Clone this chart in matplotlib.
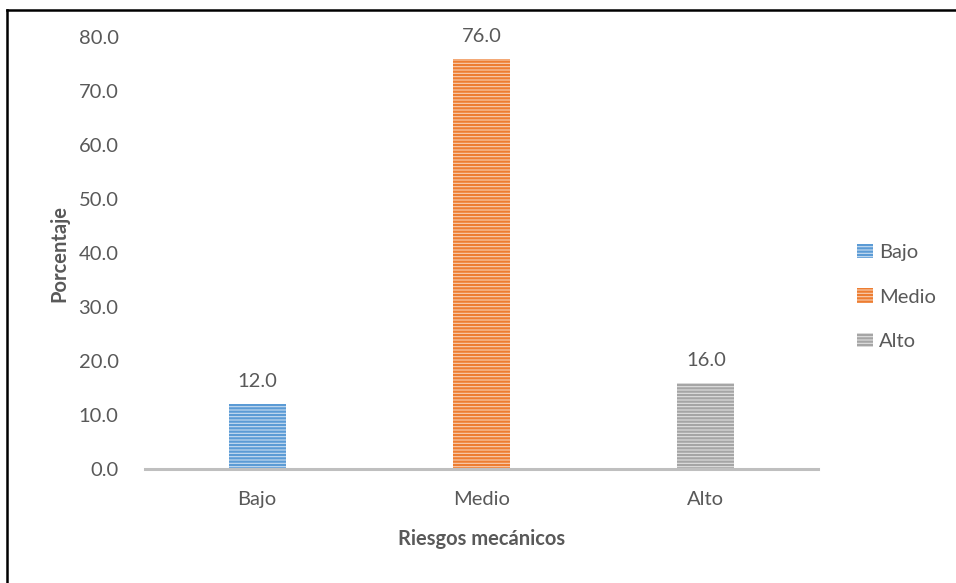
import matplotlib.pyplot as plt
from matplotlib.lines import Line2D
from matplotlib.patches import Patch

plt.rcParams["font.family"] = ["Lato", "DejaVu Sans"]
plt.rcParams["hatch.linewidth"] = 1.6

categories = ["Bajo", "Medio", "Alto"]
values = [12.0, 76.0, 16.0]
colors = ["#5B9BD5", "#ED7D31", "#A5A5A5"]
light = ["#C9DDF1", "#F9CFB3", "#E0E0E0"]
yticks = [0, 10, 20, 30, 40, 50, 60, 70, 80]

text_color = "#595959"
fs = 14.5

fig = plt.figure(figsize=(9.56, 5.83), dpi=100)
ax = fig.add_axes([145 / 956, 114 / 583, 673 / 956, 432 / 583])

x = range(len(categories))
bars = ax.bar(x, values, width=0.253, color=light, edgecolor=colors,
              hatch="-----", linewidth=0)

for xi, v in zip(x, values):
    ax.annotate(f"{v:.1f}", (xi, v), xytext=(0, 10), textcoords="offset points",
                ha="center", va="bottom", fontsize=fs, color=text_color)

ax.set_xlim(-0.5, 2.5)
ax.set_ylim(0, 80)
ax.set_yticks(yticks)
ax.set_yticklabels([f"{t:.1f}" for t in yticks])
ax.set_xticks(list(x))
ax.set_xticklabels(categories)
ax.tick_params(axis="y", length=0, pad=19, labelsize=fs, labelcolor=text_color)
ax.tick_params(axis="x", length=0, pad=16, labelsize=fs, labelcolor=text_color)

for s in ["top", "right", "left"]:
    ax.spines[s].set_visible(False)
ax.spines["bottom"].set_color("#BFBFBF")
ax.spines["bottom"].set_linewidth(2.2)

ax.set_xlabel("Riesgos mecánicos", fontsize=fs, fontweight="bold",
              color=text_color, labelpad=15)
ax.set_ylabel("Porcentaje", fontsize=fs, fontweight="bold",
              color=text_color, labelpad=7)

handles = [Patch(facecolor=l, edgecolor=c, hatch="-----", linewidth=0)
           for l, c in zip(light, colors)]
leg = fig.legend(handles, categories, loc="center left",
                 bbox_to_anchor=(857 / 956, 1 - 297 / 583), frameon=False,
                 fontsize=fs, handlelength=0.8, handleheight=0.7,
                 handletextpad=0.3, labelspacing=1.35, borderaxespad=0,
                 borderpad=0)
for t in leg.get_texts():
    t.set_color(text_color)

# frame edges of the original picture (top and left)
fig.add_artist(Line2D([7 / 956, 7 / 956], [0, 1 - 9.5 / 583],
                      transform=fig.transFigure, color="black", linewidth=1.8))
fig.add_artist(Line2D([7 / 956, 1], [1 - 9.5 / 583, 1 - 9.5 / 583],
                      transform=fig.transFigure, color="black", linewidth=1.8))

fig.savefig("out.png", dpi=100)
